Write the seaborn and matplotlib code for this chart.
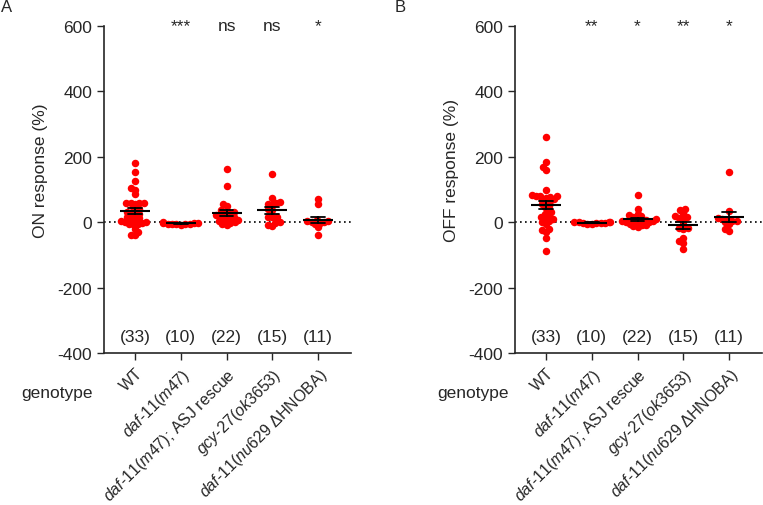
import pandas as pd
import seaborn as sns
import matplotlib.pyplot as plt

# Genotypes (plain names) and italic tick labels
genotypes = ["WT", "daf-11(m47)", "daf-11(m47); ASJ rescue", "gcy-27(ok3653)", "daf-11(nu629 HNOBA)"]
tick_labels = [
    "WT",
    r"$\mathit{daf}$-$\mathit{11(m47)}$",
    r"$\mathit{daf}$-$\mathit{11(m47)}$; ASJ rescue",
    r"$\mathit{gcy}$-$\mathit{27(ok3653)}$",
    r"$\mathit{daf}$-$\mathit{11(nu629}$ ΔHNOBA)",
]
n_labels = ["(33)", "(10)", "(22)", "(15)", "(11)"]

# ON responses (%)
on_wt = [180, 155, 125, 100, 105, 85, 60, 60, 58, 57, 60, 45, 40, 35, 30, 28, 25,
         20, 15, 12, 8, 5, 3, 2, 0, -2, -5, -5, -8, -20, -30, -38, -40]
on_m47 = [2, -2, -5, -3, -8, -4, -1, -6, -5, -7]
on_rescue = [162, 110, 55, 50, 38, 35, 30, 28, 25, 22, 20, 18, 15, 12, 10, 8, 5, 3, 0, -2, -5, -8]
on_gcy27 = [148, 73, 62, 60, 57, 52, 40, 38, 16, 17, 15, 0, -3, -8, -12]
on_nu629 = [70, 55, 8, 5, 3, 2, 0, -2, -5, -15, -40]
on_stars = ["", "***", "ns", "ns", "*"]

# OFF responses (%)
off_wt = [262, 183, 170, 160, 98, 80, 80, 78, 79, 75, 82, 70, 68, 65, 60, 55, 50,
          45, 35, 30, 25, 20, 15, 12, 10, 5, 2, -5, -20, -25, -30, -48, -88]
off_m47 = [0, 2, -2, -3, -5, -4, 0, 1, -3, -2]
off_rescue = [82, 40, 26, 21, 18, 15, 12, 10, 8, 7, 5, 5, 3, 2, 0, 0, -2, -5, -8, -10, -12, -15]
off_gcy27 = [40, 36, 28, 20, 16, 13, 10, -5, -17, -17, -20, -48, -57, -63, -82]
off_nu629 = [152, 34, 12, 10, 8, 5, 3, 0, -5, -22, -27]
off_stars = ["", "**", "*", "**", "*"]


def to_long(groups):
    rows = []
    for g, vals in zip(genotypes, groups):
        rows += [(g, v) for v in vals]
    return pd.DataFrame(rows, columns=["genotype", "value"])


df_on = to_long([on_wt, on_m47, on_rescue, on_gcy27, on_nu629])
df_off = to_long([off_wt, off_m47, off_rescue, off_gcy27, off_nu629])

sns.set_style("ticks")
plt.rcParams["font.family"] = ["Liberation Sans", "DejaVu Sans"]
plt.rcParams["mathtext.fontset"] = "custom"
plt.rcParams["mathtext.rm"] = "Liberation Sans"
plt.rcParams["mathtext.it"] = "Liberation Sans:italic"
plt.rcParams["axes.unicode_minus"] = False

fs = 12.5

fig = plt.figure(figsize=(7.63, 5.06), dpi=100)
ax_a = fig.add_axes([104 / 763, 152 / 506, 247 / 763, 327 / 506])
ax_b = fig.add_axes([515 / 763, 152 / 506, 247 / 763, 327 / 506])

panels = [
    (ax_a, df_on, on_stars, "ON response (%)", "A", 1, -0.335),
    (ax_b, df_off, off_stars, "OFF response (%)", "B", 395, -0.315),
]

swarms = []
for ax, df, stars, ylabel, letter, lx, gx in panels:
    ax.axhline(0, color="black", linestyle=(0, (1, 2)), linewidth=1.2, zorder=0)
    n_before = len(ax.collections)
    sns.swarmplot(data=df, x="genotype", y="value", order=genotypes, color="#ff0000",
                  size=3.0, linewidth=0, ax=ax, zorder=2)
    swarms += ax.collections[n_before:]
    sns.pointplot(data=df, x="genotype", y="value", order=genotypes, errorbar="se",
                  color="black", marker="_", markersize=22, markeredgewidth=1.5,
                  linestyle="none", capsize=0.3, err_kws={"linewidth": 1.3}, ax=ax)
    for ln in ax.lines[1:]:
        ln.set_zorder(3)

    ax.set_ylim(-400, 600)
    ax.set_yticks([-400, -200, 0, 200, 400, 600])
    ax.set_xlim(-0.68, 4.72)
    ax.set_xticks(range(len(genotypes)))
    ax.set_xticklabels(tick_labels, rotation=45, ha="right", rotation_mode="anchor", fontsize=11.5)
    ax.tick_params(axis="y", labelsize=fs, length=5, width=1)
    ax.tick_params(axis="x", length=5, width=1)
    ax.set_xlabel("")
    ax.set_ylabel(ylabel, fontsize=fs)
    ax.yaxis.set_label_coords(-0.225, 0.56)
    sns.despine(ax=ax)
    for s in ["left", "bottom"]:
        ax.spines[s].set_linewidth(1.2)

    for i, (s, n) in enumerate(zip(stars, n_labels)):
        ax.text(i, 600, s, ha="center", va="center", fontsize=fs)
        ax.text(i, -350, n, ha="center", va="center", fontsize=fs)

    ax.text(gx, -0.12, "genotype", transform=ax.transAxes, ha="left", va="center", fontsize=fs)
    fig.text(lx / 763, 1 - 8 / 506, letter, ha="left", va="center", fontsize=12)

# lay out the swarms with small dots (tight, overlapping cloud), then enlarge the dots
fig.canvas.draw()
for c in swarms:
    if "draw" in c.__dict__:
        del c.draw
    c.set_sizes([5.4 ** 2])

fig.savefig("out.png", dpi=100)
